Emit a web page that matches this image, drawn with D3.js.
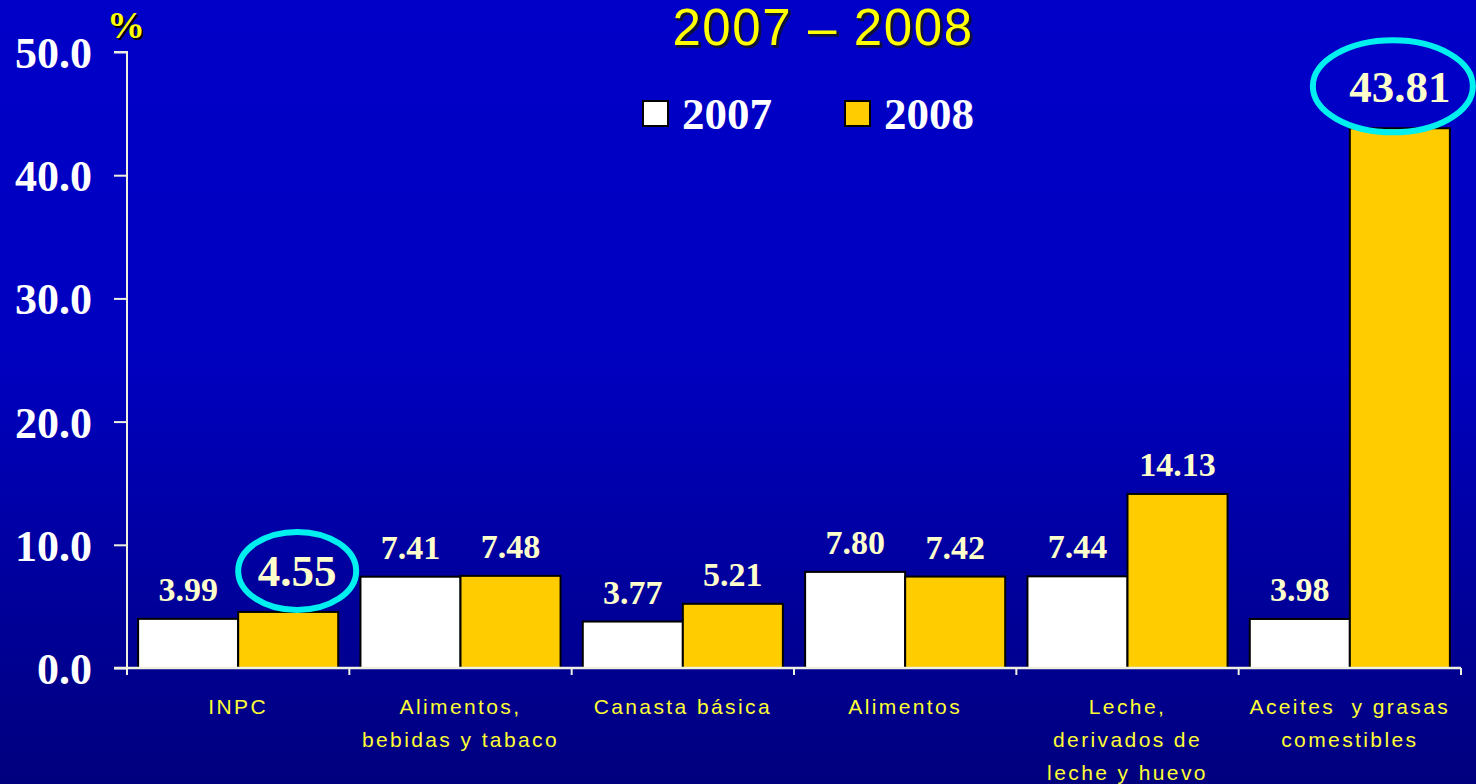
<!DOCTYPE html>
<html><head><meta charset="utf-8">
<script src="https://cdn.jsdelivr.net/npm/d3@7"></script>
<style>html,body{margin:0;padding:0;overflow:hidden;background:#0000b0}</style>
</head><body>
<script>
const categories = [["INPC"],["Alimentos,","bebidas y tabaco"],["Canasta básica"],["Alimentos"],["Leche,","derivados de","leche y huevo"],["Aceites  y grasas","comestibles"]];
const categoryKeys = ["INPC","Alimentos, bebidas y tabaco","Canasta básica","Alimentos","Leche, derivados de leche y huevo","Aceites y grasas comestibles"];
const seriesNames = ["2007","2008"];
const values2007 = [3.99,7.41,3.77,7.80,7.44,3.98];
const values2008 = [4.55,7.48,5.21,7.42,14.13,43.81];
const highlighted = [[0,1],[5,1]];
const yTicks = [0,10,20,30,40,50];

const W=1476,H=784;
const svg=d3.select("body").append("svg").attr("width",W).attr("height",H);
const defs=svg.append("defs");
const g=defs.append("linearGradient").attr("id","bg").attr("x1",0).attr("y1",0).attr("x2",0).attr("y2",1);
g.append("stop").attr("offset","0%").attr("stop-color","#0000c8");
g.append("stop").attr("offset","45%").attr("stop-color","#0000c0");
g.append("stop").attr("offset","100%").attr("stop-color","#00007e");
svg.append("rect").attr("width",W).attr("height",H).attr("fill","url(#bg)");

const x0=d3.scaleBand().domain(categoryKeys).range([127,1461]).paddingInner(0.1).paddingOuter(0.05);
const x1=d3.scaleBand().domain(seriesNames).range([0,x0.bandwidth()]);
const y=d3.scaleLinear().domain([0,50]).range([668,52]);
const colors={"2007":"#ffffff","2008":"#ffcc00"};
const axisCol="#f0f0e0";

// Y axis
const ya=svg.append("g").attr("transform","translate(127,0)").call(d3.axisLeft(y).tickValues(yTicks).tickSize(13).tickFormat(d3.format(".1f")));
ya.select(".domain").attr("stroke",axisCol).attr("stroke-width",2).attr("d","M-13,52H0V668");
ya.selectAll(".tick line").attr("stroke",axisCol).attr("stroke-width",2);
ya.selectAll(".tick text").attr("fill","#ffffff").attr("font-family","'Liberation Serif',serif").attr("font-weight","bold").attr("font-size",44).attr("x",-35).attr("dy","0.35em");

// bars
const data=categoryKeys.map((c,i)=>({c,i,vals:[{s:"2007",v:values2007[i]},{s:"2008",v:values2008[i]}]}));
const grp=svg.append("g").selectAll("g").data(data).join("g").attr("transform",d=>`translate(${x0(d.c)},0)`);
grp.selectAll("rect").data(d=>d.vals).join("rect")
  .attr("x",d=>x1(d.s)).attr("width",x1.bandwidth())
  .attr("y",d=>y(d.v)).attr("height",d=>y(0)-y(d.v))
  .attr("fill",d=>colors[d.s]).attr("stroke","#000").attr("stroke-width",2);

// X axis
const xa=svg.append("g").attr("transform","translate(0,668)");
xa.append("line").attr("x1",114).attr("x2",1461).attr("y1",0).attr("y2",0).attr("stroke",axisCol).attr("stroke-width",2.5);
const tickXs=[127].concat(categoryKeys.map(c=>x0(c)+x0.bandwidth()+x0.step()*x0.paddingInner()/2)).slice(0,7);
xa.selectAll("line.t").data(tickXs).join("line").attr("class","t").attr("x1",d=>d).attr("x2",d=>d).attr("y1",0).attr("y2",7).attr("stroke",axisCol).attr("stroke-width",2);

// category labels
const cl=svg.append("g");
categories.forEach((lines,i)=>{
  const cx=x0(categoryKeys[i])+x0.bandwidth()/2;
  lines.forEach((ln,j)=>{
    cl.append("text").attr("x",cx).attr("y",714+j*33).attr("text-anchor","middle")
      .attr("fill","#ffff33").attr("font-family","'Liberation Sans',Arial,sans-serif").attr("font-size",21).attr("letter-spacing",2.4)
      .attr("xml:space","preserve").text(ln);
  });
});

// value labels
const isHi=(i,k)=>highlighted.some(h=>h[0]===i&&h[1]===k);
data.forEach(d=>{
  d.vals.forEach((v,k)=>{
    const cx=x0(d.c)+x1(v.s)+x1.bandwidth()/2;
    const hi=isHi(d.i,k);
    const dx=hi&&d.i===0?9:0;
    svg.append("text").attr("x",cx+dx).attr("y",y(v.v)-(hi?26:18))
      .attr("text-anchor","middle").attr("fill","#ffffcc")
      .attr("font-family","'Liberation Serif',serif").attr("font-weight","bold")
      .attr("font-size",hi?45:34).text(v.v.toFixed(2));
    if(hi){
      const cy=y(v.v)-(d.i===5?42:41);
      svg.append("ellipse").attr("cx",cx+(d.i===5?-7:9)).attr("cy",cy).attr("rx",d.i===5?80:59).attr("ry",d.i===5?46:39)
        .attr("fill","none").attr("stroke","#00f0f0").attr("stroke-width",6);
    }
  });
});

// title
const title=svg.append("g");
const tAttr=sel=>sel.attr("text-anchor","middle").attr("font-family","'Liberation Sans',Arial,sans-serif").attr("font-size",51).attr("letter-spacing",1.6).text("2007 – 2008");
title.append("text").attr("x",825).attr("y",47).attr("fill","#101040").attr("stroke","#101040").attr("stroke-width",1.5).call(tAttr);
title.append("text").attr("x",823).attr("y",45).attr("fill","#ffff00").call(tAttr);

// % label
svg.append("text").attr("x",109).attr("y",40).attr("fill","#000000").attr("font-family","'Liberation Serif',serif").attr("font-weight","bold").attr("font-size",38).text("%");
svg.append("text").attr("x",107).attr("y",38).attr("fill","#ffff00").attr("font-family","'Liberation Serif',serif").attr("font-weight","bold").attr("font-size",38).text("%");

// legend
const leg=svg.append("g");
const legX=[643,845];
seriesNames.forEach((s,i)=>{
  leg.append("rect").attr("x",legX[i]).attr("y",101).attr("width",25).attr("height",25).attr("fill",colors[s]).attr("stroke","#000").attr("stroke-width",2);
  leg.append("text").attr("x",legX[i]+39).attr("y",129).attr("fill","#fff").attr("font-family","'Liberation Serif',serif").attr("font-weight","bold").attr("font-size",45).text(s);
});
</script>
</body></html>
